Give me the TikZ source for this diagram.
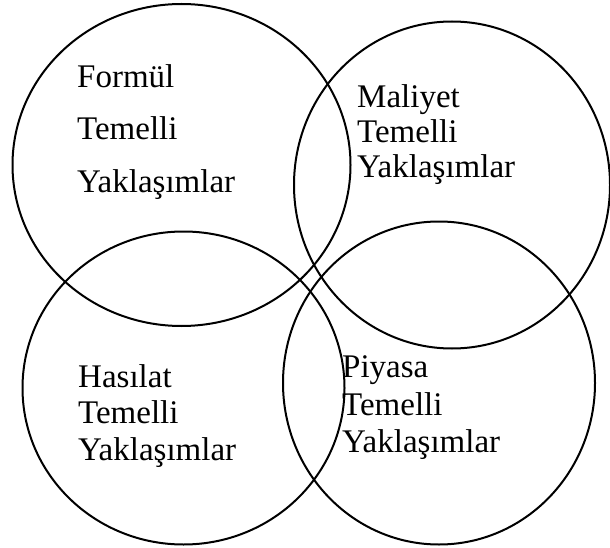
\documentclass[tikz,border=0pt]{standalone}
\usepackage{fontspec}
\setmainfont{Liberation Serif}
\usetikzlibrary{shapes.geometric}
\begin{document}
\begin{tikzpicture}[x=1pt,y=-1pt,
  ring/.style={draw=black, line width=2pt, ellipse, inner sep=0pt},
  lbl/.style={anchor=base west, inner sep=0pt, font=\fontsize{33}{40}\selectfont}]
\useasboundingbox (0,0) rectangle (610,548);
\node[ring, minimum width=338pt, minimum height=322pt] (c1) at (181.5,165) {};
\node[ring, minimum width=316pt, minimum height=327pt] (c2) at (452,185) {};
\node[ring, minimum width=322pt, minimum height=313pt] (c3) at (183.5,388) {};
\node[ring, minimum width=312pt, minimum height=323pt] (c4) at (439,383) {};
% circle 1 text
\node[lbl] (f1) at (77,88) {Formül};
\node[lbl] (f2) at (77,140) {Temelli};
\node[lbl] (f3) at (77,193) {Yaklaşımlar};
% circle 2 text
\node[lbl] (m1) at (357,108) {Maliyet};
\node[lbl] (m2) at (357,143) {Temelli};
\node[lbl] (m3) at (357,178) {Yaklaşımlar};
% circle 3 text
\node[lbl] (h1) at (78,387) {Hasılat};
\node[lbl] (h2) at (78,423) {Temelli};
\node[lbl] (h3) at (78,460) {Yaklaşımlar};
% circle 4 text
\node[lbl] (p1) at (342,377) {Piyasa};
\node[lbl] (p2) at (342,415) {Temelli};
\node[lbl] (p3) at (342,452) {Yaklaşımlar};
\end{tikzpicture}
\end{document}
